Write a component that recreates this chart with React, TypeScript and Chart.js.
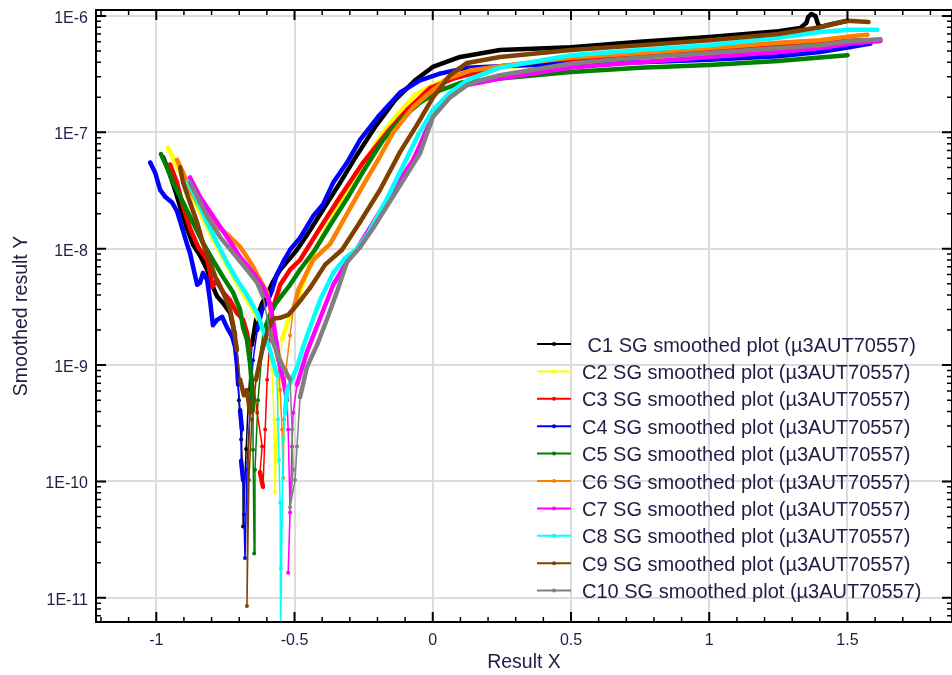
import React, { useEffect, useRef } from "react";
import { Chart, registerables } from "chart.js";

Chart.register(...registerables);

type Pt = [number, number];

const seriesLabels = [
  " C1 SG smoothed plot (µ3AUT70557)",
  "C2 SG smoothed plot (µ3AUT70557)",
  "C3 SG smoothed plot (µ3AUT70557)",
  "C4 SG smoothed plot (µ3AUT70557)",
  "C5 SG smoothed plot (µ3AUT70557)",
  "C6 SG smoothed plot (µ3AUT70557)",
  "C7 SG smoothed plot (µ3AUT70557)",
  "C8 SG smoothed plot (µ3AUT70557)",
  "C9 SG smoothed plot (µ3AUT70557)",
  "C10 SG smoothed plot (µ3AUT70557)",
];
const seriesColors = ["#000000", "#ffff00", "#ff0000", "#0000ff", "#008000", "#ff8000", "#ff00ff", "#00ffff", "#804000", "#808080"];

const c1: Pt[] = [[-0.975,6.1e-8],[-0.95,4.3e-8],[-0.932,3.2e-8],[-0.914,2.3e-8],[-0.889,1.5e-8],[-0.867,1.08e-8],[-0.842,8.8e-9],[-0.816,6.6e-9],[-0.795,4.7e-9],[-0.78,3.9e-9],[-0.758,3.4e-9],[-0.733,2.8e-9],[-0.715,1.8e-9],[-0.708,1.0e-9],[-0.701,5.0e-10],[-0.693,2.3e-10],[-0.686,1.03e-10],[-0.686,4.1e-11],[-0.675,1.9e-10],[-0.665,6.1e-10],[-0.654,1.5e-9],[-0.639,2.45e-9],[-0.617,3.4e-9],[-0.596,4.2e-9],[-0.578,5.2e-9],[-0.552,6.6e-9],[-0.516,8.3e-9],[-0.491,9.8e-9],[-0.455,1.31e-8],[-0.397,2.16e-8],[-0.335,3.7e-8],[-0.274,6.4e-8],[-0.209,1.11e-7],[-0.136,1.9e-7],[-0.064,2.8e-7],[0.0,3.65e-7],[0.099,4.45e-7],[0.243,5.1e-7],[0.5,5.4e-7],[0.75,6.0e-7],[1.0,6.6e-7],[1.25,7.4e-7],[1.329,7.9e-7],[1.351,8.7e-7],[1.358,9.8e-7],[1.369,1.04e-6],[1.384,1.0e-6],[1.391,8.9e-7],[1.398,8.0e-7],[1.434,8.4e-7],[1.5,9.1e-7]];
const c2: Pt[] = [[-0.957,7.4e-8],[-0.932,5.5e-8],[-0.896,3.7e-8],[-0.86,2.5e-8],[-0.824,1.67e-8],[-0.787,1.12e-8],[-0.751,7.7e-9],[-0.715,5.4e-9],[-0.679,3.9e-9],[-0.643,2.8e-9],[-0.617,2.1e-9],[-0.596,1.5e-9],[-0.581,9.1e-10],[-0.574,3.4e-10],[-0.571,8.1e-11],[-0.564,2.3e-10],[-0.556,7.5e-10],[-0.545,1.65e-9],[-0.527,2.3e-9],[-0.491,3.6e-9],[-0.455,6.2e-9],[-0.426,9.8e-9],[-0.371,1.7e-8],[-0.31,3.1e-8],[-0.252,5.2e-8],[-0.191,9.1e-8],[-0.129,1.41e-7],[-0.064,2.1e-7],[0.0,2.55e-7],[0.124,3.4e-7],[0.243,3.65e-7],[0.5,3.95e-7],[0.75,4.4e-7],[1.0,4.7e-7],[1.25,5.1e-7],[1.4,5.4e-7],[1.511,5.6e-7]];
const c3: Pt[] = [[-0.95,5.3e-8],[-0.925,3.7e-8],[-0.903,2.3e-8],[-0.878,1.5e-8],[-0.849,1.04e-8],[-0.816,8.0e-9],[-0.805,6.2e-9],[-0.798,4.7e-9],[-0.78,5.4e-9],[-0.758,4.2e-9],[-0.733,3.6e-9],[-0.708,2.8e-9],[-0.686,2.45e-9],[-0.672,1.9e-9],[-0.661,1.35e-9],[-0.65,7.5e-10],[-0.635,3.9e-10],[-0.617,2.0e-10],[-0.625,1.2e-10],[-0.614,9.0e-11],[-0.606,2.8e-10],[-0.599,7.5e-10],[-0.589,1.65e-9],[-0.574,3.3e-9],[-0.552,4.9e-9],[-0.516,6.6e-9],[-0.48,8.0e-9],[-0.408,1.5e-8],[-0.335,2.8e-8],[-0.252,5.5e-8],[-0.165,1.0e-7],[-0.093,1.56e-7],[-0.01,2.4e-7],[0.074,2.9e-7],[0.243,3.7e-7],[0.5,4.2e-7],[0.75,4.6e-7],[1.0,5.1e-7],[1.25,5.6e-7],[1.4,6.0e-7],[1.547,6.2e-7]];
const c4: Pt[] = [[-1.022,5.5e-8],[-1.004,4.5e-8],[-0.986,3.2e-8],[-0.968,2.8e-8],[-0.943,2.5e-8],[-0.925,2.1e-8],[-0.906,1.5e-8],[-0.889,1.1e-8],[-0.878,9.2e-9],[-0.867,7.0e-9],[-0.852,4.9e-9],[-0.842,5.1e-9],[-0.831,6.2e-9],[-0.816,5.4e-9],[-0.805,3.5e-9],[-0.795,2.2e-9],[-0.78,2.45e-9],[-0.762,2.6e-9],[-0.744,2.1e-9],[-0.725,1.75e-9],[-0.715,1.43e-9],[-0.708,1.0e-9],[-0.704,6.8e-10],[-0.697,4.1e-10],[-0.69,2.8e-10],[-0.693,1.5e-10],[-0.686,1.03e-10],[-0.683,5.2e-11],[-0.679,2.2e-11],[-0.672,1.26e-10],[-0.661,4.1e-10],[-0.65,1.1e-9],[-0.635,2.0e-9],[-0.617,3.0e-9],[-0.596,3.6e-9],[-0.581,4.4e-9],[-0.564,6.0e-9],[-0.541,7.7e-9],[-0.516,9.8e-9],[-0.48,1.24e-8],[-0.433,1.9e-8],[-0.397,2.4e-8],[-0.36,3.7e-8],[-0.31,5.5e-8],[-0.263,8.6e-8],[-0.198,1.36e-7],[-0.118,2.2e-7],[-0.046,2.8e-7],[0.026,3.2e-7],[0.124,3.6e-7],[0.243,3.7e-7],[0.5,3.9e-7],[0.75,4.0e-7],[1.0,4.2e-7],[1.25,4.5e-7],[1.4,4.9e-7],[1.511,5.4e-7],[1.583,5.8e-7]];
const c5: Pt[] = [[-0.983,6.5e-8],[-0.961,5.0e-8],[-0.939,3.7e-8],[-0.903,2.5e-8],[-0.867,1.67e-8],[-0.831,1.12e-8],[-0.795,8.0e-9],[-0.758,5.7e-9],[-0.722,4.2e-9],[-0.697,3.0e-9],[-0.686,2.1e-9],[-0.672,1.65e-9],[-0.661,1.04e-9],[-0.654,6.5e-10],[-0.65,4.1e-10],[-0.65,1.87e-10],[-0.646,2.4e-11],[-0.643,1.26e-10],[-0.632,5.0e-10],[-0.617,1.35e-9],[-0.603,2.2e-9],[-0.589,2.7e-9],[-0.571,3.3e-9],[-0.545,4.0e-9],[-0.516,4.9e-9],[-0.48,6.6e-9],[-0.426,9.8e-9],[-0.371,1.6e-8],[-0.31,2.7e-8],[-0.252,4.6e-8],[-0.18,8.6e-8],[-0.118,1.28e-7],[-0.046,1.8e-7],[0.026,2.3e-7],[0.109,2.7e-7],[0.243,2.9e-7],[0.5,3.3e-7],[0.75,3.6e-7],[1.0,3.8e-7],[1.25,4.1e-7],[1.4,4.4e-7],[1.5,4.6e-7]];
const c6: Pt[] = [[-0.925,5.8e-8],[-0.903,4.5e-8],[-0.878,3.2e-8],[-0.842,2.3e-8],[-0.805,1.9e-8],[-0.769,1.5e-8],[-0.733,1.26e-8],[-0.697,1.04e-8],[-0.672,8.5e-9],[-0.65,7.0e-9],[-0.625,5.4e-9],[-0.599,4.2e-9],[-0.589,3.2e-9],[-0.581,2.45e-9],[-0.571,1.65e-9],[-0.56,1.1e-9],[-0.552,6.1e-10],[-0.545,2.8e-10],[-0.541,1.07e-10],[-0.538,3.4e-10],[-0.531,9.1e-10],[-0.516,1.8e-9],[-0.505,3.0e-9],[-0.485,4.5e-9],[-0.433,8.0e-9],[-0.371,1.1e-8],[-0.31,2.0e-8],[-0.252,3.5e-8],[-0.191,6.2e-8],[-0.143,1.0e-7],[-0.071,1.65e-7],[-0.01,2.2e-7],[0.052,2.9e-7],[0.135,3.4e-7],[0.243,3.7e-7],[0.5,4.4e-7],[0.75,4.8e-7],[1.0,5.3e-7],[1.25,5.9e-7],[1.4,6.2e-7],[1.511,6.7e-7],[1.572,6.9e-7]];
const c7: Pt[] = [[-0.878,4.1e-8],[-0.842,2.8e-8],[-0.795,1.9e-8],[-0.744,1.26e-8],[-0.697,8.5e-9],[-0.65,6.2e-9],[-0.614,4.7e-9],[-0.589,3.4e-9],[-0.578,2.45e-9],[-0.564,1.5e-9],[-0.552,9.6e-10],[-0.541,7.5e-10],[-0.527,5.0e-10],[-0.523,2.8e-10],[-0.516,5.4e-11],[-0.523,1.64e-11],[-0.509,2.0e-10],[-0.505,3.9e-10],[-0.491,6.8e-10],[-0.455,1.3e-9],[-0.408,2.5e-9],[-0.36,4.9e-9],[-0.317,7.3e-9],[-0.274,1.0e-8],[-0.216,1.67e-8],[-0.143,3.2e-8],[-0.071,5.8e-8],[-0.046,7.8e-8],[0.001,1.41e-7],[0.063,2.1e-7],[0.124,2.55e-7],[0.243,2.9e-7],[0.5,3.6e-7],[0.75,4.0e-7],[1.0,4.45e-7],[1.25,4.9e-7],[1.4,5.3e-7],[1.511,5.8e-7],[1.619,6.1e-7]];
const c8: Pt[] = [[-0.885,3.7e-8],[-0.852,2.6e-8],[-0.816,1.67e-8],[-0.78,1.12e-8],[-0.744,7.6e-9],[-0.708,5.4e-9],[-0.672,4.0e-9],[-0.635,2.8e-9],[-0.614,2.0e-9],[-0.589,1.35e-9],[-0.564,8.2e-10],[-0.56,3.4e-10],[-0.556,1.53e-10],[-0.552,6.6e-11],[-0.549,1.8e-11],[-0.552,4.4e-12],[-0.541,2.3e-10],[-0.534,3.9e-10],[-0.527,6.1e-10],[-0.516,7.0e-10],[-0.491,9.6e-10],[-0.469,1.43e-9],[-0.444,2.1e-9],[-0.408,3.6e-9],[-0.36,6.2e-9],[-0.317,8.3e-9],[-0.274,1.0e-8],[-0.237,1.31e-8],[-0.165,2.7e-8],[-0.107,5.2e-8],[-0.053,9.5e-8],[0.001,1.56e-7],[0.063,2.2e-7],[0.124,2.8e-7],[0.171,3.1e-7],[0.243,3.6e-7],[0.5,4.6e-7],[0.75,5.1e-7],[1.0,5.6e-7],[1.25,6.5e-7],[1.4,7.3e-7],[1.511,7.6e-7],[1.608,7.6e-7]];
const c9: Pt[] = [[-0.914,5.0e-8],[-0.903,3.7e-8],[-0.878,2.5e-8],[-0.852,1.67e-8],[-0.831,1.12e-8],[-0.805,7.6e-9],[-0.78,5.2e-9],[-0.758,4.2e-9],[-0.733,3.0e-9],[-0.722,2.2e-9],[-0.708,1.35e-9],[-0.697,7.5e-10],[-0.683,5.5e-10],[-0.672,6.1e-10],[-0.661,3.9e-10],[-0.668,1.45e-10],[-0.672,8.5e-12],[-0.665,1.03e-10],[-0.654,3.4e-10],[-0.639,7.5e-10],[-0.617,1.35e-9],[-0.596,2.0e-9],[-0.578,2.5e-9],[-0.552,2.55e-9],[-0.523,2.7e-9],[-0.491,3.3e-9],[-0.444,4.6e-9],[-0.389,7.3e-9],[-0.328,9.8e-9],[-0.263,1.7e-8],[-0.191,3.2e-8],[-0.118,6.8e-8],[-0.057,1.16e-7],[0.001,2.0e-7],[0.063,3.1e-7],[0.124,3.95e-7],[0.243,4.45e-7],[0.5,5.1e-7],[0.75,5.6e-7],[1.0,6.2e-7],[1.25,7.0e-7],[1.4,8.0e-7],[1.5,9.1e-7],[1.576,8.9e-7]];
const c10: Pt[] = [[-0.878,3.7e-8],[-0.852,2.8e-8],[-0.816,1.9e-8],[-0.769,1.26e-8],[-0.722,9.2e-9],[-0.672,6.6e-9],[-0.635,5.1e-9],[-0.614,3.9e-9],[-0.589,1.9e-9],[-0.564,1.27e-9],[-0.541,9.6e-10],[-0.516,7.5e-10],[-0.509,2.8e-10],[-0.505,1.26e-10],[-0.516,6.0e-11],[-0.498,1.03e-10],[-0.491,2.0e-10],[-0.48,5.3e-10],[-0.455,9.6e-10],[-0.418,1.5e-9],[-0.382,2.5e-9],[-0.346,4.3e-9],[-0.31,7.7e-9],[-0.263,1.03e-8],[-0.216,1.5e-8],[-0.129,3.2e-8],[-0.046,6.6e-8],[0.001,1.36e-7],[0.063,2.0e-7],[0.124,2.55e-7],[0.171,2.8e-7],[0.243,3.1e-7],[0.5,3.9e-7],[0.75,4.4e-7],[1.0,4.8e-7],[1.25,5.3e-7],[1.4,5.6e-7],[1.511,6.1e-7],[1.619,6.3e-7]];

const allSeries: Pt[][] = [c1, c2, c3, c4, c5, c6, c7, c8, c9, c10];

const xTickValues = [-1, -0.5, 0, 0.5, 1, 1.5];
const xTickLabels = ["-1", "-0.5", "0", "0.5", "1", "1.5"];
const yTickValues = [1e-11, 1e-10, 1e-9, 1e-8, 1e-7, 1e-6];
const yTickLabels = ["1E-11", "1E-10", "1E-9", "1E-8", "1E-7", "1E-6"];
const xTitle = "Result X";
const yTitle = "Smoothed result Y";

const X_MIN = -1.218;
const X_MAX = 1.878;
const Y_MIN = 6.2e-12;
const Y_MAX = 1.126e-6;

const FONT = '"Liberation Sans", Arial, sans-serif';
const TEXT_COLOR = "#1e1e46";

const overlayPlugin = {
  id: "overlay",
  afterDraw(chart: any) {
    const { ctx, chartArea: a } = chart;
    const xs = chart.scales.x;
    const ys = chart.scales.y;
    ctx.save();
    ctx.strokeStyle = "#000";
    for (let k = Math.ceil(X_MIN * 10); k <= Math.floor(X_MAX * 10); k++) {
      const major = k % 5 === 0;
      const len = major ? 10 : 5;
      const px = xs.getPixelForValue(k / 10);
      ctx.lineWidth = major ? 2 : 1.5;
      ctx.beginPath();
      ctx.moveTo(px, a.bottom);
      ctx.lineTo(px, a.bottom - len);
      ctx.moveTo(px, a.top);
      ctx.lineTo(px, a.top + len);
      ctx.stroke();
    }
    for (let e = -12; e <= -6; e++) {
      for (let m = 1; m <= 9; m++) {
        const v = m * Math.pow(10, e);
        if (v < Y_MIN || v > Y_MAX) continue;
        const major = m === 1;
        const len = major ? 10 : 5;
        const py = ys.getPixelForValue(v);
        ctx.lineWidth = major ? 2 : 1.5;
        ctx.beginPath();
        ctx.moveTo(a.left, py);
        ctx.lineTo(a.left + len, py);
        ctx.moveTo(a.right, py);
        ctx.lineTo(a.right - len, py);
        ctx.stroke();
      }
    }
    ctx.lineWidth = 2;
    ctx.strokeRect(a.left, a.top, a.right - a.left, a.bottom - a.top);

    ctx.fillStyle = TEXT_COLOR;
    ctx.font = "16px " + FONT;
    ctx.textAlign = "right";
    ctx.textBaseline = "alphabetic";
    yTickValues.forEach((v, i) => {
      ctx.fillText(yTickLabels[i], a.left - 8, ys.getPixelForValue(v) + 7);
    });
    ctx.textAlign = "center";
    xTickValues.forEach((v, i) => {
      ctx.fillText(xTickLabels[i], xs.getPixelForValue(v), a.bottom + 23);
    });

    ctx.font = "19.5px " + FONT;
    ctx.textAlign = "center";
    ctx.fillText(xTitle, (a.left + a.right) / 2, 668);
    ctx.save();
    ctx.translate(27, (a.top + a.bottom) / 2);
    ctx.rotate(-Math.PI / 2);
    ctx.fillText(yTitle, 0, 0);
    ctx.restore();

    ctx.font = "20px " + FONT;
    ctx.textAlign = "left";
    seriesLabels.forEach((lab, i) => {
      const ry = 344 + i * 27.4;
      ctx.strokeStyle = seriesColors[i];
      ctx.lineWidth = 2;
      ctx.beginPath();
      ctx.moveTo(537, ry);
      ctx.lineTo(571, ry);
      ctx.stroke();
      ctx.fillStyle = seriesColors[i];
      ctx.beginPath();
      ctx.arc(554, ry, 2, 0, Math.PI * 2);
      ctx.fill();
      ctx.fillStyle = TEXT_COLOR;
      ctx.fillText(lab, 582, ry + 7.5);
    });
    ctx.restore();
  },
};

export default function App() {
  const ref = useRef<HTMLCanvasElement>(null);
  useEffect(() => {
    document.body.style.margin = "0";
    const canvas = ref.current!;
    const chart = new Chart(canvas, {
      type: "line",
      data: {
        datasets: allSeries.map((s, i) => ({
          label: seriesLabels[i],
          data: s.map(([x, y]) => ({ x, y })),
          borderColor: seriesColors[i],
          backgroundColor: seriesColors[i],
          pointBackgroundColor: seriesColors[i],
          pointBorderWidth: 0,
          pointRadius: 2,
          borderWidth: 4.5,
          borderCapStyle: "round",
          borderJoinStyle: "round",
          tension: 0,
          fill: false,
          order: -i,
          segment: {
            borderWidth: (c: any) => {
              const dx = Math.abs(c.p1.x - c.p0.x);
              const dy = Math.abs(c.p1.y - c.p0.y);
              return dy > 25 && dy > 5 * dx ? 1.5 : 4.5;
            },
          },
        })),
      } as any,
      options: {
        responsive: false,
        animation: false,
        devicePixelRatio: 1,
        events: [],
        layout: { autoPadding: false, padding: { left: 96, top: 10, right: 0, bottom: 53 } },
        plugins: {
          legend: { display: false },
          tooltip: { enabled: false },
          title: { display: false },
        },
        scales: {
          x: {
            type: "linear",
            min: X_MIN,
            max: X_MAX,
            afterBuildTicks: (s: any) => {
              s.ticks = xTickValues.map((v) => ({ value: v }));
            },
            afterFit: (s: any) => {
              s.height = 0;
            },
            ticks: { display: false },
            grid: { color: "#dcdcdc", lineWidth: 2, drawTicks: false },
            border: { display: false },
          },
          y: {
            type: "logarithmic",
            min: Y_MIN,
            max: Y_MAX,
            afterBuildTicks: (s: any) => {
              s.ticks = yTickValues.map((v) => ({ value: v }));
            },
            afterFit: (s: any) => {
              s.width = 0;
            },
            ticks: { display: false },
            grid: { color: "#dcdcdc", lineWidth: 2, drawTicks: false },
            border: { display: false },
          },
        },
      } as any,
      plugins: [overlayPlugin],
    });
    return () => chart.destroy();
  }, []);
  return (
    <div style={{ width: 952, height: 675, overflow: "hidden", background: "#fff" }}>
      <canvas ref={ref} width={952} height={675} style={{ display: "block" }} />
    </div>
  );
}
